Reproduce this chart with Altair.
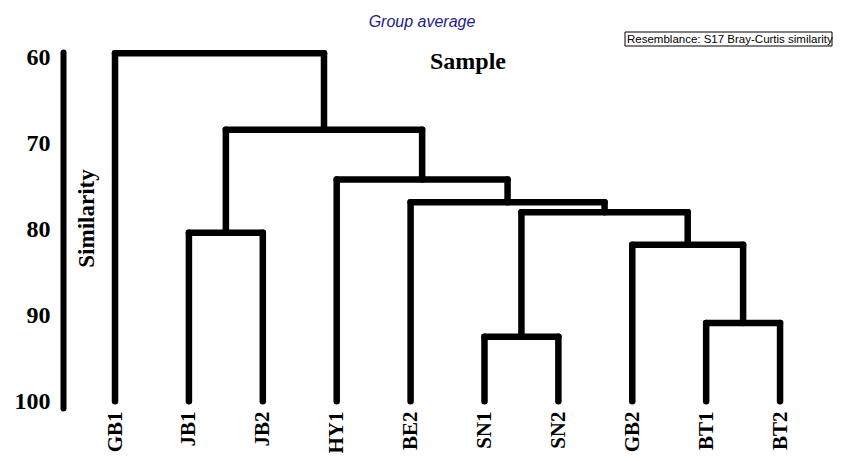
import altair as alt
import pandas as pd

# ---- data ----
leaves = ["GB1", "JB1", "JB2", "HY1", "BE2", "SN1", "SN2", "GB2", "BT1", "BT2"]
leaf_similarity = 100.0
merge_names = ["m0", "m1", "m2", "m3", "m4", "m5", "m6", "m7", "m8"]
merge_left = ["SN1", "BT1", "GB2", "m0", "BE2", "HY1", "JB1", "m6", "GB1"]
merge_right = ["SN2", "BT2", "m1", "m2", "m3", "m4", "JB2", "m5", "m7"]
merge_similarity = [92.5, 90.9, 81.8, 78.0, 76.85, 74.2, 80.4, 68.4, 59.5]
y_ticks = [60, 70, 80, 90, 100]

# ---- build dendrogram segments ----
pos = {n: float(i) for i, n in enumerate(leaves)}
hgt = {n: leaf_similarity for n in leaves}
rows = []
for name, a, b, s in zip(merge_names, merge_left, merge_right, merge_similarity):
    xa, xb = pos[a], pos[b]
    rows.append({"x": xa, "x2": xb, "y": s, "y2": s})          # horizontal
    rows.append({"x": xa, "x2": xa, "y": hgt[a], "y2": s})     # left vertical
    rows.append({"x": xb, "x2": xb, "y": hgt[b], "y2": s})     # right vertical
    pos[name] = (xa + xb) / 2
    hgt[name] = s
seg = pd.DataFrame(rows)

label_expr = "[" + ",".join("'%s'" % n for n in leaves) + "][datum.value]"

xscale = alt.Scale(domain=[-0.704, 9.703], nice=False, zero=False)
yscale = alt.Scale(domain=[59.35, 100.8], reverse=True, nice=False, zero=False)

serif = "Liberation Serif"

dendro = alt.Chart(seg).mark_rule(
    color="black", strokeWidth=6.5, strokeCap="round"
).encode(
    x=alt.X("x:Q", scale=xscale, axis=alt.Axis(
        values=list(range(len(leaves))), labelExpr=label_expr, title=None,
        domain=False, ticks=False, grid=False, labelAngle=270,
        labelAlign="right", labelBaseline="middle", labelPadding=3,
        labelFont=serif, labelFontSize=21, labelFontWeight="bold",
        labelColor="black", labelOverlap=False, labelBound=False, labelFlush=False)),
    x2="x2:Q",
    y=alt.Y("y:Q", scale=yscale, axis=alt.Axis(
        values=y_ticks, title="Similarity", grid=False, ticks=False,
        domain=True, domainColor="black", domainWidth=6, domainCap="round",
        labelFont=serif, labelFontSize=24, labelFontWeight="bold",
        labelColor="black", labelPadding=13, labelOverlap=False, labelFlush=False,
        titleFont=serif, titleFontSize=23, titleFontWeight="bold", titleColor="black",
        titleAngle=270, titleX=23, titleY=166, titleAlign="center",
        titleBaseline="middle")),
    y2="y2:Q",
)

sample = alt.Chart(pd.DataFrame({"t": ["Sample"]})).mark_text(
    font=serif, fontSize=24, fontWeight="bold", color="black",
    align="center", baseline="alphabetic"
).encode(text="t:N", x=alt.value(405), y=alt.value(17))

group = alt.Chart(pd.DataFrame({"t": ["Group average"]})).mark_text(
    font="Liberation Sans", fontSize=16, fontStyle="italic", color="#1c1c8a",
    align="center", baseline="alphabetic"
).encode(text="t:N", x=alt.value(359), y=alt.value(-25))

box = alt.Chart(pd.DataFrame({"t": ["box"]})).mark_rect(
    fill="white", stroke="black", strokeWidth=1
).encode(x=alt.value(562), x2=alt.value(769), y=alt.value(-20), y2=alt.value(-6))

resem = alt.Chart(pd.DataFrame({"t": ["Resemblance: S17 Bray-Curtis similarity"]})).mark_text(
    font="Liberation Sans", fontSize=11.5, color="black",
    align="left", baseline="alphabetic"
).encode(text="t:N", x=alt.value(564), y=alt.value(-9))

chart = alt.layer(dendro, sample, group, box, resem).properties(
    width=769, height=356,
    background="white",
    autosize=alt.AutoSizeParams(type="none"),
    padding={"left": 55, "top": 44, "right": 2, "bottom": 45},
).configure_view(strokeWidth=0, stroke=None)

chart.save("out.html", embed_options={"renderer": "svg", "actions": False})
